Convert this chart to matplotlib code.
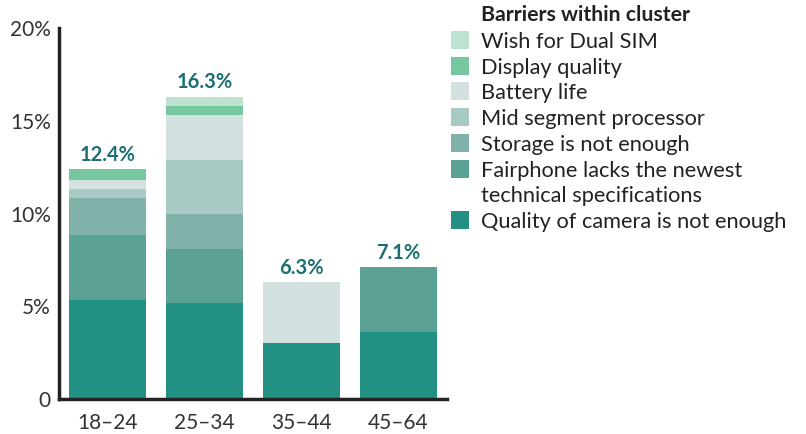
import matplotlib.pyplot as plt
from matplotlib.patches import Rectangle
import numpy as np

plt.rcParams['font.family'] = ['Lato', 'DejaVu Sans']

# datos
ages = ["18–24", "25–34", "35–44", "45–64"]
camera = [5.35, 5.2, 3.0, 3.6]
fairphone = [3.5, 2.9, 0, 3.5]
storage = [2.0, 1.9, 0, 0]
mid = [0.45, 2.9, 0, 0]
battery = [0.5, 2.4, 3.3, 0]
display = [0.6, 0.5, 0, 0]
dualsim = [0, 0.5, 0, 0]

series = [camera, fairphone, storage, mid, battery, display, dualsim]
names = ["Quality of camera is not enough",
         "Fairphone lacks the newest\ntechnical specifications",
         "Storage is not enough", "Mid segment processor",
         "Battery life", "Display quality", "Wish for Dual SIM"]
colors = ["#229183", "#5ba295", "#80b2a9", "#a9c9c4", "#d3e1e0", "#76c7a0", "#bde3d0"]
yticks = [0, 5, 10, 15, 20]
ylabels = ["0", "5%", "10%", "15%", "20%"]

W, H = 806, 434
fig = plt.figure(figsize=(W / 100, H / 100), dpi=100)
ax = fig.add_axes([59 / W, 1 - 399 / H, 388 / W, 371 / H])

x = np.arange(len(ages))
bottom = np.zeros(len(ages))
for vals, c in zip(series, colors):
    ax.bar(x, vals, 0.8, bottom=bottom, color=c, linewidth=0)
    bottom += np.array(vals)

for xi, tot in zip(x, bottom):
    ax.annotate("{:.1f}%".format(tot), (xi, tot), xytext=(0, 3), textcoords="offset points",
                ha="center", va="bottom", fontsize=14.5, fontweight="bold", color="#1b6e72")

ax.set_xlim(-0.5, 3.5)
ax.set_ylim(0, 20)
ax.set_xticks(x)
ax.set_xticklabels(ages)
ax.set_yticks(yticks)
ax.set_yticklabels(ylabels)
ax.tick_params(length=0, labelsize=15, colors="#333333", pad=6)
ax.tick_params(axis="x", pad=10)
for s in ["top", "right"]:
    ax.spines[s].set_visible(False)
for s in ["left", "bottom"]:
    ax.spines[s].set_linewidth(2.5)
    ax.spines[s].set_color("#222222")

# leyenda manual
fig.text(481 / W, 1 - 21 / H, "Barriers within cluster", fontsize=15.3, fontweight="bold",
         color="#222222", va="baseline")
rows = [40, 66, 91, 117, 143, 169, 220]
for yc, n, c in zip(rows, names[::-1], colors[::-1]):
    fig.add_artist(Rectangle((451 / W, 1 - (yc + 9) / H), 18 / W, 18 / H,
                             transform=fig.transFigure, color=c, lw=0))
    for k, line in enumerate(n.split("\n")):
        fig.text(481 / W, 1 - (yc + 8 + 25 * k) / H, line, fontsize=15.7,
                 color="#222222", va="baseline")

plt.savefig("out.png", dpi=100)
